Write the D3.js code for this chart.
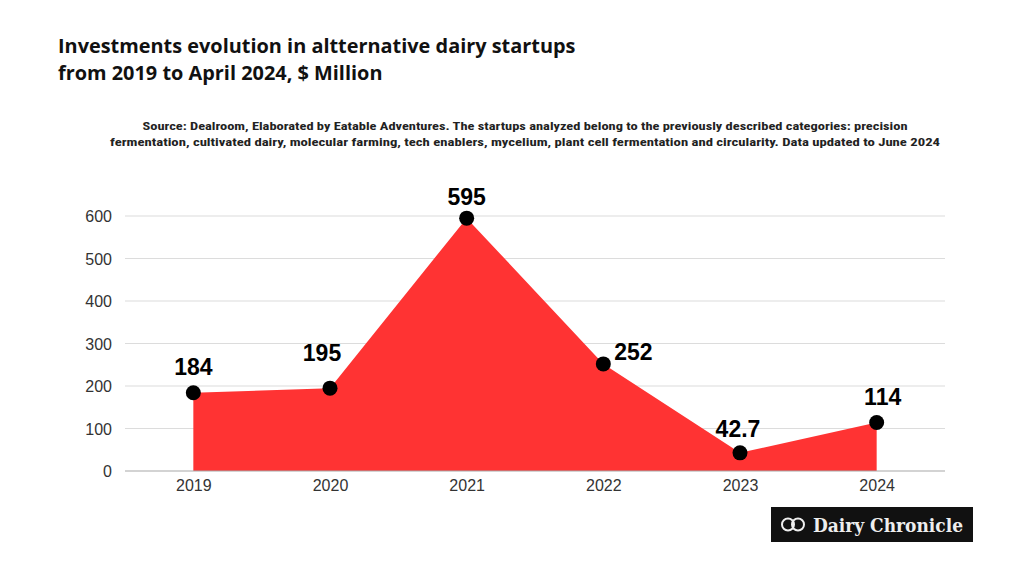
<!DOCTYPE html>
<html><head><meta charset="utf-8">
<script src="https://cdn.jsdelivr.net/npm/d3@7"></script>
<style>
body{margin:0;background:#fff;}
svg{display:block;}
</style></head>
<body><svg id="c" width="1024" height="576"></svg>
<script>
const years = ["2019","2020","2021","2022","2023","2024"];
const values = [184,195,595,252,42.7,114];
const labels = ["184","195","595","252","42.7","114"];
const yTicks = [0,100,200,300,400,500,600];
const titleLines = ["Investments evolution in altternative dairy startups","from 2019 to April 2024, $ Million"];
const sourceLines = ["Source: Dealroom, Elaborated by Eatable Adventures. The startups analyzed belong to the previously described categories: precision",
 "fermentation, cultivated dairy, molecular farming, tech enablers, mycelium, plant cell fermentation and circularity. Data updated to June 2024"];
// label offsets relative to point (dx, dy)
const labelOffsets = [[0,-18],[-8,-27],[0,-13],[30,-4],[-2,-16],[6,-18]];

const svg = d3.select("#c");
const x = d3.scalePoint().domain(years).range([125,945]).padding(0.5);
const y = d3.scaleLinear().domain([0,600]).range([471,216]);

// title
svg.append("g").selectAll("text").data(titleLines).join("text")
  .attr("x",58).attr("y",(d,i)=>53+i*27)
  .attr("font-family","'Open Sans',sans-serif").attr("font-weight","700")
  .attr("font-size",19.9).attr("fill","#111").text(d=>d);

// source
const srcW=[765,830];
svg.append("g").selectAll("text").data(sourceLines).join("text")
  .attr("x",525).attr("y",(d,i)=>130+i*16).attr("text-anchor","middle")
  .attr("font-family","'Liberation Sans Narrow','Roboto Condensed','Liberation Sans',sans-serif").attr("font-weight","bold")
  .attr("font-size",11.5).attr("fill","#222")
  .attr("textLength",(d,i)=>srcW[i]).attr("lengthAdjust","spacingAndGlyphs").text(d=>d);

// grid
svg.append("g").selectAll("line").data(yTicks.filter(t=>t>0)).join("line")
  .attr("x1",125).attr("x2",945).attr("y1",d=>y(d)).attr("y2",d=>y(d))
  .attr("stroke","#dcdcdc").attr("stroke-width",1.2);

// area
const area = d3.area().x((d,i)=>x(years[i])).y0(y(0)).y1(d=>y(d));
svg.append("path").datum(values).attr("d",area).attr("fill","#ff3333");

// baseline
svg.append("line").attr("x1",125).attr("x2",945).attr("y1",y(0)).attr("y2",y(0))
  .attr("stroke","#a8a8a8").attr("stroke-width",1.2);

// y axis labels
const yAxis = d3.axisLeft(y).tickValues(yTicks).tickSize(0).tickPadding(0);
const yg = svg.append("g").attr("transform","translate(112,0)").call(yAxis);
yg.select(".domain").remove();
yg.selectAll("text").attr("font-family","'Liberation Sans',sans-serif").attr("font-size",16).attr("fill","#333").attr("dy","0.35em");

// x axis labels
const xAxis = d3.axisBottom(x).tickSize(0).tickPadding(0);
const xg = svg.append("g").attr("transform","translate(0,480)").call(xAxis);
xg.select(".domain").remove();
xg.selectAll("text").attr("font-family","'Liberation Sans',sans-serif").attr("font-size",16).attr("fill","#333").attr("dy","0.71em");

// dots
svg.append("g").selectAll("circle").data(values).join("circle")
  .attr("cx",(d,i)=>x(years[i])).attr("cy",d=>y(d)).attr("r",7.5).attr("fill","#000");

// value labels
svg.append("g").selectAll("text").data(values).join("text")
  .attr("x",(d,i)=>x(years[i])+labelOffsets[i][0]).attr("y",(d,i)=>y(d)+labelOffsets[i][1])
  .attr("text-anchor","middle")
  .attr("font-family","'Liberation Sans',sans-serif").attr("font-weight","bold")
  .attr("font-size",23).attr("fill","#000").text((d,i)=>labels[i]);

// logo
const lg = svg.append("g").attr("transform","translate(771,507)");
lg.append("rect").attr("width",202).attr("height",35).attr("fill","#111");
lg.append("circle").attr("cx",17).attr("cy",17.5).attr("r",6).attr("fill","none").attr("stroke","#eee").attr("stroke-width",2);
lg.append("circle").attr("cx",27).attr("cy",17.5).attr("r",6).attr("fill","none").attr("stroke","#eee").attr("stroke-width",2);
lg.append("text").attr("x",42).attr("y",24.5)
  .attr("font-family","'DejaVu Serif',serif").attr("font-weight","bold").attr("font-size",19)
  .attr("fill","#eee").attr("textLength",150).attr("lengthAdjust","spacingAndGlyphs").text("Dairy Chronicle");
</script></body></html>
